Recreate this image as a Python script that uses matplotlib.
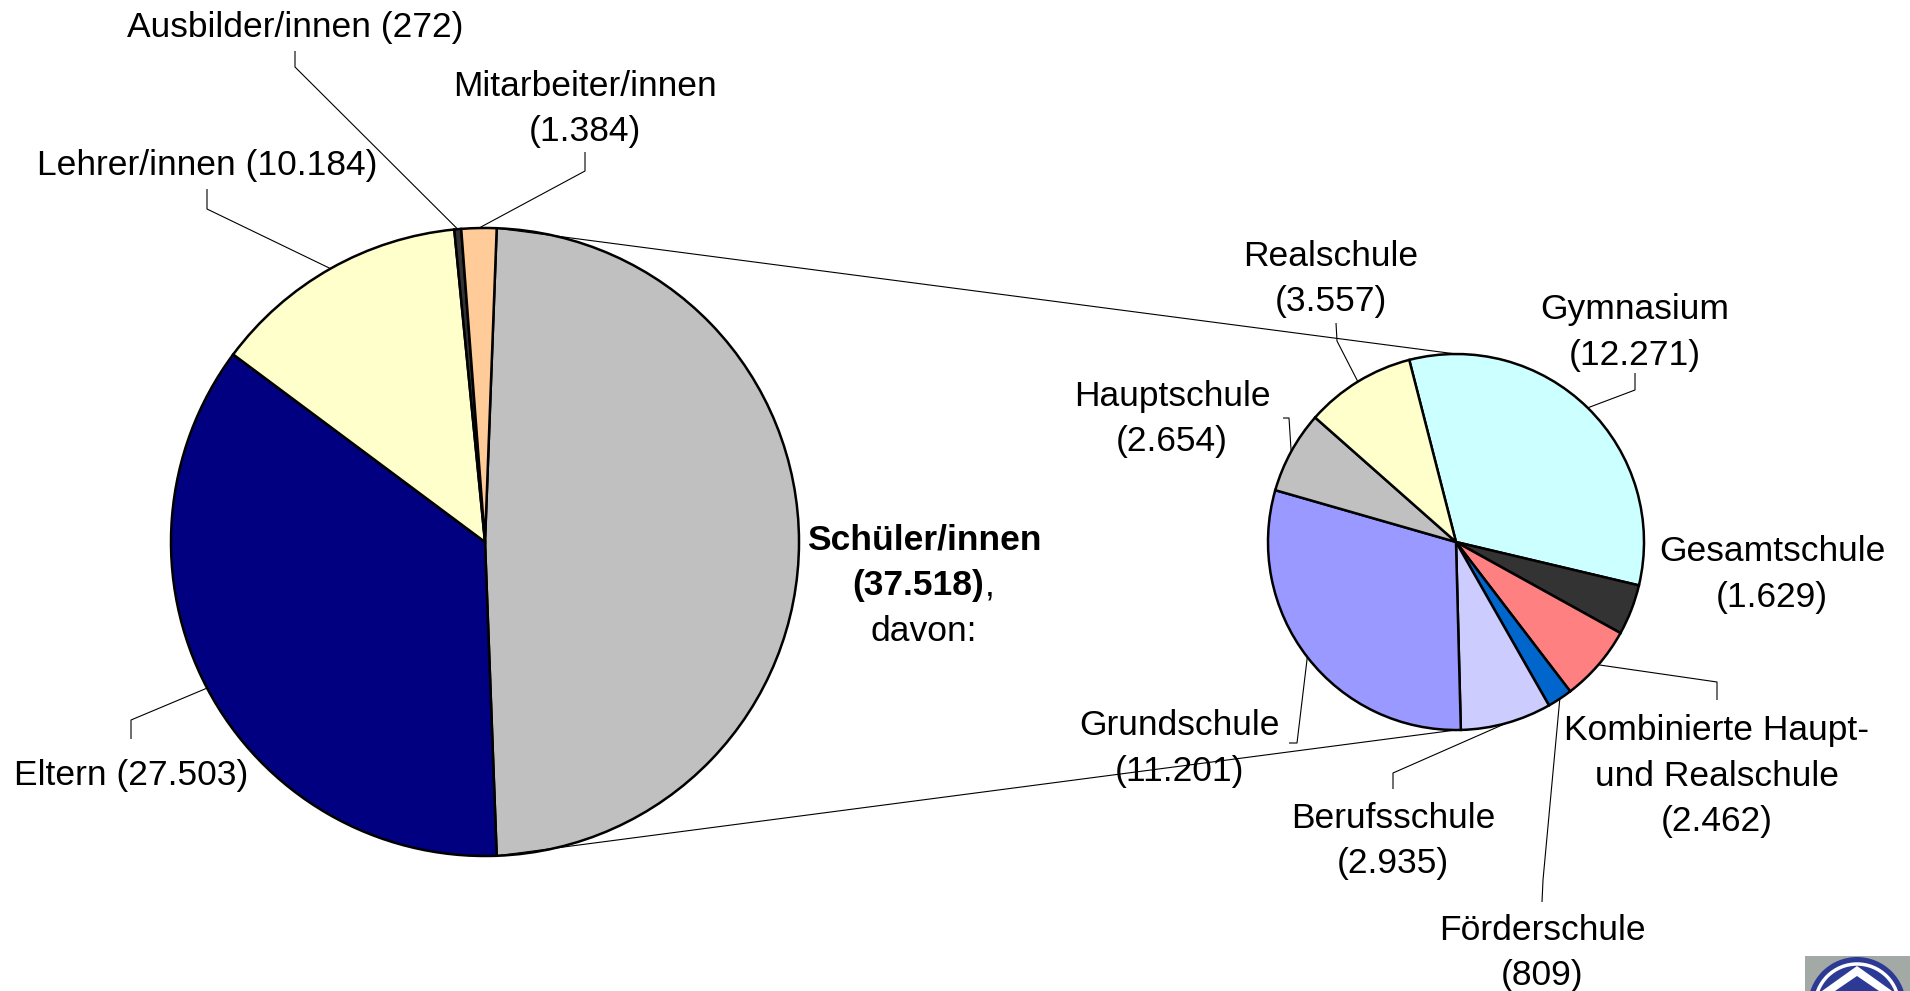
import matplotlib

matplotlib.use("Agg")

import matplotlib.patches as mpatches
import matplotlib.pyplot as plt
import numpy as np

W, H = 1910, 991

outer_labels = ["Schüler/innen", "Eltern", "Lehrer/innen", "Ausbilder/innen", "Mitarbeiter/innen"]
outer_values = [37518, 27503, 10184, 272, 1384]
outer_colors = ["#C0C0C0", "#000080", "#FFFFCC", "#333333", "#FFCC99"]

inner_labels = ["Gymnasium", "Gesamtschule", "Kombinierte Haupt-\nund Realschule", "Förderschule",
                "Berufsschule", "Grundschule", "Hauptschule", "Realschule"]
inner_values = [12271, 1629, 2462, 809, 2935, 11201, 2654, 3557]
inner_colors = ["#CCFFFF", "#333333", "#FF8080", "#0066CC", "#CCCCFF", "#9999FF", "#C0C0C0", "#FFFFCC"]


def fmt(v):
    return f"{v:,}".replace(",", ".")


# layout in image pixels (y down): text centre x, first line y, leader points near label
OUTER_LAYOUT = {
    "Eltern": ((131, 772), "inline", [(131, 739), (131, 720)]),
    "Lehrer/innen": ((207, 162), "inline", [(207, 189), (207, 209)]),
    "Ausbilder/innen": ((295, 24), "inline", [(295, 51), (295, 67)]),
    "Mitarbeiter/innen": ((585, 83), "split", [(585, 152), (585, 171)]),
}
INNER_LAYOUT = {
    "Gymnasium": ((1635, 306), [(1635, 373), (1635, 390)]),
    "Gesamtschule": ((1772, 548), None),
    "Kombinierte Haupt-\nund Realschule": ((1717, 727), [(1717, 700), (1717, 682)]),
    "Förderschule": ((1542, 927), [(1542, 902), (1543, 880)]),
    "Berufsschule": ((1393, 815), [(1393, 789), (1393, 773)]),
    "Grundschule": ((1179, 722), [(1289, 743), (1297, 743)]),
    "Hauptschule": ((1172, 393), [(1283, 418), (1289, 418)]),
    "Realschule": ((1331, 253), [(1336, 323), (1337, 341)]),
}

C1, R1 = (485, 542), 314
C2, R2 = (1456, 542), 188
LINE_H = 45.5
TEXT_DY = 3.5
FS = 25.5
FONT = "Liberation Sans"


def Y(y):
    return H - y


def put_lines(ax, x, y, lines, **kw):
    for k, s in enumerate(lines):
        ax.text(x, Y(y + TEXT_DY + k * LINE_H), s, ha="center", va="center", fontsize=FS,
                family=FONT, color="black", **kw)


def edge_point(w, center, r):
    mid = np.deg2rad((w.theta1 + w.theta2) / 2)
    return center[0] + r * np.cos(mid), Y(Y(center[1]) + r * np.sin(mid))


def leader(ax, pts):
    xs = [p[0] for p in pts]
    ys = [Y(p[1]) for p in pts]
    ax.plot(xs, ys, color="black", lw=0.8, solid_capstyle="butt")


fig = plt.figure(figsize=(W / 100, H / 100), dpi=100, facecolor="white")
ax = fig.add_axes([0, 0, 1, 1])

tot1 = sum(outer_values)
start1 = 360 * outer_values[0] / tot1 / 2
w1, _ = ax.pie(outer_values, colors=outer_colors, startangle=start1, counterclock=False,
               center=(C1[0], Y(C1[1])), radius=R1,
               wedgeprops=dict(edgecolor="black", linewidth=1.8))

start2 = 104.4
w2, _ = ax.pie(inner_values, colors=inner_colors, startangle=start2, counterclock=False,
               center=(C2[0], Y(C2[1])), radius=R2,
               wedgeprops=dict(edgecolor="black", linewidth=1.8))

ax.set_xlim(0, W)
ax.set_ylim(0, H)
ax.set_aspect("equal")
ax.axis("off")

# connector lines between the pies (theta2 is the upper edge of the split slice)
sw = w1[0]
for th, ty in [(sw.theta2, C2[1] - R2), (sw.theta1, C2[1] + R2)]:
    a = np.deg2rad(th)
    x0, y0 = C1[0] + R1 * np.cos(a), Y(C1[1]) + R1 * np.sin(a)
    ax.plot([x0, C2[0]], [y0, Y(ty)], color="black", lw=0.8)

# outer labels
for w, lab, val in zip(w1, outer_labels, outer_values):
    if lab not in OUTER_LAYOUT:
        continue
    (tx, ty), mode, pts = OUTER_LAYOUT[lab]
    if mode == "inline":
        put_lines(ax, tx, ty, [f"{lab} ({fmt(val)})"])
    else:
        put_lines(ax, tx, ty, [lab, f"({fmt(val)})"])
    leader(ax, pts + [edge_point(w, C1, R1)])

# Schüler label
sx, sy = 924, 537 + TEXT_DY
ax.text(sx, Y(sy), outer_labels[0], ha="center", va="center", fontsize=FS, family=FONT,
        fontweight="bold")
ax.text(sx - 6, Y(sy + LINE_H), f"({fmt(outer_values[0])})", ha="center", va="center",
        fontsize=FS, family=FONT, fontweight="bold")
ax.text(sx + 61, Y(sy + LINE_H), ",", ha="left", va="center", fontsize=FS, family=FONT)
ax.text(sx, Y(sy + 2 * LINE_H), "davon:", ha="center", va="center", fontsize=FS, family=FONT)

# inner labels
for w, lab, val in zip(w2, inner_labels, inner_values):
    (tx, ty), pts = INNER_LAYOUT[lab]
    put_lines(ax, tx, ty, lab.split("\n") + [f"({fmt(val)})"])
    if pts:
        leader(ax, pts + [edge_point(w, C2, R2)])

# logo fragment bottom right
ax.add_patch(mpatches.Rectangle((1805, 0), 105, Y(956), fc="#A3AAA6", ec="none", zorder=5))
ax.add_patch(mpatches.Circle((1857, Y(1006)), 49, fc="#2C3A96", ec="none", zorder=6))
ax.add_patch(mpatches.Circle((1857, Y(1006)), 42, fc="none", ec="white", lw=2.5, zorder=7))
ax.add_patch(mpatches.Polygon([(1822, Y(991)), (1857, Y(966)), (1892, Y(991))],
                              closed=True, fc="white", ec="none", zorder=7))
ax.add_patch(mpatches.Polygon([(1835, Y(991)), (1857, Y(976)), (1879, Y(991))],
                              closed=True, fc="#2C3A96", ec="none", zorder=8))

fig.savefig("out.png", dpi=100, facecolor="white")
